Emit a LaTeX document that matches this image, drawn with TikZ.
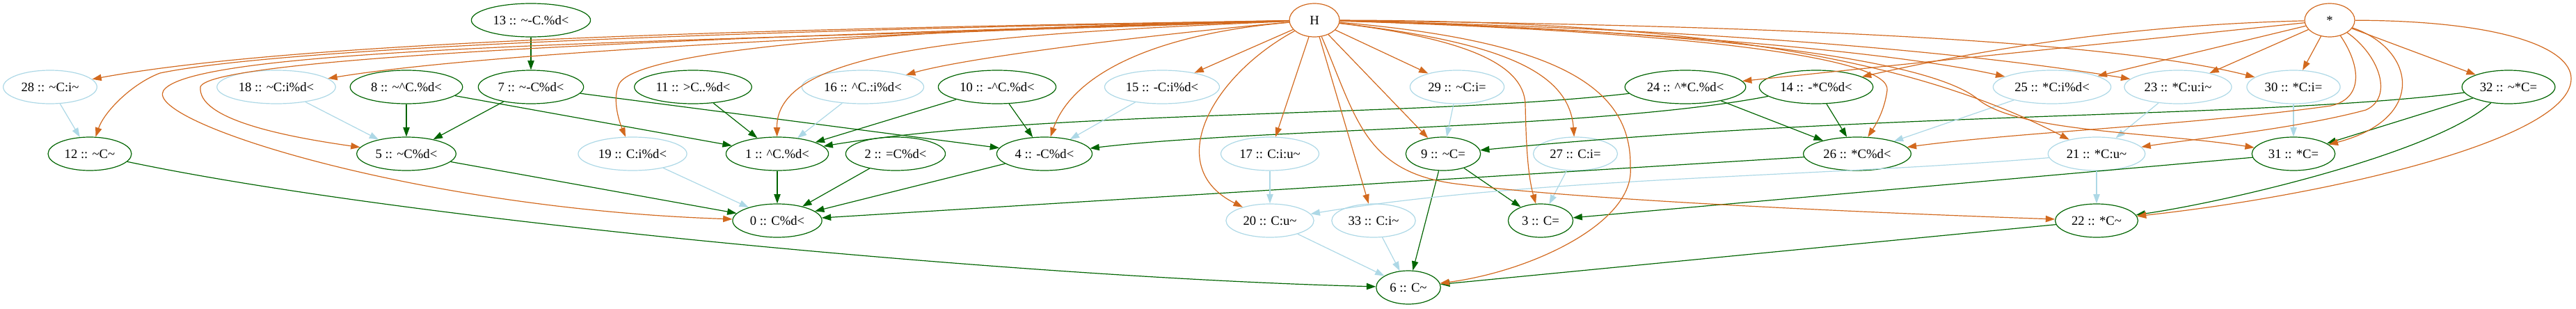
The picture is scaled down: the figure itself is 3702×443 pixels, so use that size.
\documentclass[tikz,border=0pt]{standalone}
\usepackage{fontspec}
\setmainfont{Liberation Serif}
\usepackage{tikz}
\usetikzlibrary{shapes.geometric, arrows.meta}
\definecolor{dgreen}{RGB}{0,100,0}
\definecolor{lblue}{RGB}{173,216,230}
\definecolor{choc}{RGB}{210,105,30}
\newcommand{\tld}{\textasciitilde}
\newcommand{\crt}{\textasciicircum}

\begin{document}
\begin{tikzpicture}[x=0.75pt, y=-0.75pt,
		every node/.style={ellipse, draw, line width=0.9pt, minimum height=36pt, inner xsep=4.6pt, inner ysep=1pt, font=\fontsize{14}{16}\selectfont},
		gnode/.style={draw=dgreen},
		bnode/.style={draw=lblue},
		onode/.style={draw=choc, minimum width=54pt},
		gedge/.style={dgreen, line width=0.9pt, -{Triangle[length=10pt, width=7pt]}},
		bedge/.style={lblue, line width=0.9pt, -{Triangle[length=10pt, width=7pt]}},
		oedge/.style={choc, line width=0.9pt, -{Triangle[length=10pt, width=7pt]}}]
	\useasboundingbox (0,0) rectangle (3702,443);
	
	\node[onode] (H) at (1889,29) {H};
	\node[onode] (star) at (3348,29) {*};
	\node[gnode] (n13) at (763,29) {13 :: \tld-C.\%d<};
	
	\node[bnode] (n28) at (72,125) {28 :: \tld C:i\tld};
	\node[bnode] (n18) at (397,125) {18 :: \tld C:i\%d<};
	\node[gnode] (n8) at (584,125) {8 :: \tld\crt C.\%d<};
	\node[gnode] (n7) at (763,125) {7 :: \tld-C\%d<};
	\node[gnode] (n11) at (996,125) {11 :: >C..\%d<};
	\node[bnode] (n16) at (1240,125) {16 :: \crt C.:i\%d<};
	\node[gnode] (n10) at (1433,125) {10 :: -\crt C.\%d<};
	\node[bnode] (n15) at (1670,125) {15 :: -C:i\%d<};
	\node[bnode] (n29) at (2094,125) {29 :: \tld C:i=};
	\node[gnode] (n24) at (2422,125) {24 :: \crt*C.\%d<};
	\node[gnode] (n14) at (2610,125) {14 :: -*C\%d<};
	\node[bnode] (n25) at (2949,125) {25 :: *C:i\%d<};
	\node[bnode] (n23) at (3130,125) {23 :: *C:u:i\tld};
	\node[bnode] (n30) at (3296,125) {30 :: *C:i=};
	\node[gnode] (n32) at (3605,125) {32 :: \tld*C=};
	
	\node[gnode] (n12) at (129,221) {12 :: \tld C\tld};
	\node[gnode] (n5) at (584,221) {5 :: \tld C\%d<};
	\node[bnode] (n19) at (909,221) {19 :: C:i\%d<};
	\node[gnode] (n1) at (1117,221) {1 :: \crt C.\%d<};
	\node[gnode] (n2) at (1287,221) {2 :: =C\%d<};
	\node[gnode] (n4) at (1501,221) {4 :: -C\%d<};
	\node[bnode] (n17) at (1825,221) {17 :: C:i:u\tld};
	\node[gnode] (n9) at (2074,221) {9 :: \tld C=};
	\node[bnode] (n27) at (2264,221) {27 :: C:i=};
	\node[gnode] (n26) at (2669,221) {26 :: *C\%d<};
	\node[bnode] (n21) at (3013,221) {21 :: *C:u\tld};
	\node[gnode] (n31) at (3296,221) {31 :: *C=};
	
	\node[gnode] (n0) at (1117,317) {0 :: C\%d<};
	\node[bnode] (n20) at (1825,317) {20 :: C:u\tld};
	\node[bnode] (n33) at (1974,317) {33 :: C:i\tld};
	\node[gnode] (n3) at (2214,317) {3 :: C=};
	\node[gnode] (n22) at (3013,317) {22 :: *C\tld};
	
	\node[gnode] (n6) at (2024,413) {6 :: C\tld};
	
	\draw[gedge] (n13) -- (n7);
	\draw[gedge] (n8) -- (n5);
	\draw[gedge] (n7) -- (n5);
	\draw[gedge] (n8) -- (n1);
	\draw[gedge] (n7) -- (n4);
	\draw[gedge] (n11) -- (n1);
	\draw[gedge] (n10) -- (n1);
	\draw[gedge] (n10) -- (n4);
	\draw[gedge] (n24) .. controls (2050,168) and (1500,158) .. (n1);
	\draw[gedge] (n14) .. controls (2300,185) and (1800,185) .. (n4);
	\draw[gedge] (n32) .. controls (3250,170) and (2700,160) .. (n9);
	\draw[gedge] (n24) -- (n26);
	\draw[gedge] (n14) -- (n26);
	\draw[gedge] (n32) -- (n31);
	\draw[gedge] (n32) .. controls (3500,220) and (3200,290) .. (n22);
	\draw[gedge] (n12) .. controls (600,320) and (1500,400) .. (n6);
	\draw[gedge] (n5) -- (n0);
	\draw[gedge] (n1) -- (n0);
	\draw[gedge] (n2) -- (n0);
	\draw[gedge] (n4) -- (n0);
	\draw[gedge] (n26) -- (n0);
	\draw[gedge] (n9) -- (n3);
	\draw[gedge] (n9) -- (n6);
	\draw[gedge] (n31) -- (n3);
	\draw[gedge] (n22) -- (n6);
	
	\draw[bedge] (n28) -- (n12);
	\draw[bedge] (n18) -- (n5);
	\draw[bedge] (n16) -- (n1);
	\draw[bedge] (n15) -- (n4);
	\draw[bedge] (n19) -- (n0);
	\draw[bedge] (n29) -- (n9);
	\draw[bedge] (n17) -- (n20);
	\draw[bedge] (n27) -- (n3);
	\draw[bedge] (n33) -- (n6);
	\draw[bedge] (n20) -- (n6);
	\draw[bedge] (n25) -- (n26);
	\draw[bedge] (n23) -- (n21);
	\draw[bedge] (n30) -- (n31);
	\draw[bedge] (n21) -- (n22);
	\draw[bedge] (n21) .. controls (2600,255) and (2200,255) .. (n20);
	
	\draw[oedge] (H) .. controls (1200,40) and (450,55) .. (n28);
	\draw[oedge] (H) .. controls (1000,45) and (400,70) .. (230,105) .. controls (190,120) and (150,160) .. (n12);
	\draw[oedge] (H) .. controls (1300,45) and (700,75) .. (n18);
	\draw[oedge] (H) .. controls (1100,50) and (300,80) .. (288,125) .. controls (284,170) and (400,195) .. (n5);
	\draw[oedge] (H) .. controls (1000,60) and (280,65) .. (235,130) .. controls (205,175) and (600,300) .. (n0);
	\draw[oedge] (H) .. controls (1300,40) and (920,70) .. (890,120) .. controls (880,140) and (888,170) .. (n19);
	\draw[oedge] (H) .. controls (1400,50) and (1115,70) .. (n1);
	\draw[oedge] (H) .. controls (1700,45) and (1400,80) .. (n16);
	\draw[oedge] (H) .. controls (1650,50) and (1540,110) .. (n4);
	\draw[oedge] (H) -- (n15);
	\draw[oedge] (H) -- (n17);
	\draw[oedge] (H) .. controls (1740,110) and (1670,240) .. (n20);
	\draw[oedge] (H) -- (n29);
	\draw[oedge] (H) -- (n9);
	\draw[oedge] (H) -- (n33);
	\draw[oedge] (H) .. controls (1950,170) and (1960,250) .. (2100,265) .. controls (2300,290) and (2750,308) .. (n22);
	\draw[oedge] (H) .. controls (2100,55) and (2190,90) .. (2192,150) .. controls (2193,200) and (2195,250) .. (n3);
	\draw[oedge] (H) .. controls (2150,60) and (2255,100) .. (n27);
	\draw[oedge] (H) .. controls (2250,60) and (2345,130) .. (2343,240) .. controls (2350,320) and (2200,390) .. (n6);
	\draw[oedge] (H) .. controls (2400,45) and (2720,80) .. (2712,130) .. controls (2708,160) and (2695,180) .. (n26);
	\draw[oedge] (H) .. controls (2300,40) and (2700,70) .. (n25);
	\draw[oedge] (H) .. controls (2500,30) and (2780,100) .. (n21);
	\draw[oedge] (H) .. controls (2400,40) and (2800,70) .. (n23);
	\draw[oedge] (H) .. controls (2400,35) and (3000,50) .. (n30);
	\draw[oedge] (H) .. controls (2500,45) and (2780,90) .. (2843,143) .. controls (2900,190) and (3100,190) .. (n31);
	
	\draw[oedge] (star) .. controls (3100,35) and (2900,60) .. (n14);
	\draw[oedge] (star) -- (n24);
	\draw[oedge] (star) -- (n25);
	\draw[oedge] (star) -- (n23);
	\draw[oedge] (star) -- (n30);
	\draw[oedge] (star) .. controls (3390,90) and (3400,140) .. (3350,152) .. controls (3150,180) and (2900,190) .. (n26);
	\draw[oedge] (star) .. controls (3420,80) and (3440,140) .. (3400,158) .. controls (3300,185) and (3150,200) .. (n21);
	\draw[oedge] (star) .. controls (3470,70) and (3490,170) .. (n31);
	\draw[oedge] (star) -- (n32);
	\draw[oedge] (star) .. controls (3600,30) and (3695,70) .. (3695,113) .. controls (3695,200) and (3350,280) .. (n22);
\end{tikzpicture}
\end{document}
